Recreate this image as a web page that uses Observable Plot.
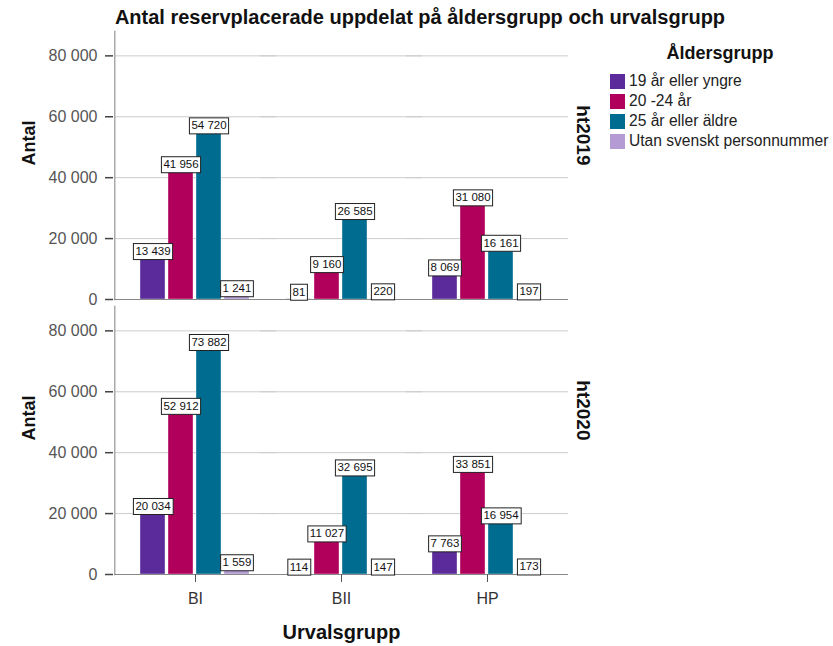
<!DOCTYPE html>
<html>
<head>
<meta charset="utf-8">
<script src="https://cdn.jsdelivr.net/npm/d3@7"></script>
<script src="https://cdn.jsdelivr.net/npm/@observablehq/plot@0.6"></script>
<style>
  body { margin: 0; background: #fff; font-family: "Liberation Sans", Arial, sans-serif; }
  #wrap { position: relative; width: 833px; height: 646px; }
  #title { position: absolute; left: 0; width: 840px; top: 6px; text-align: center; font-weight: bold; font-size: 20px; color: #111; }
  #legend { position: absolute; left: 610px; top: 43px; width: 223px; font-size: 15.6px; color: #222; white-space: nowrap; }
  #legend .lt { font-weight: bold; font-size: 18px; text-align: center; width: 220px; margin-bottom: 7px; color: #111; }
  #legend .it { display: flex; align-items: center; height: 20px; }
  #legend .sw { width: 15px; height: 15px; margin-right: 4px; flex: none; }
</style>
</head>
<body>
<div id="wrap">
  <div id="title">Antal reservplacerade uppdelat på åldersgrupp och urvalsgrupp</div>
  <div id="legend"></div>
</div>
<script>
const years = ["ht2019", "ht2020"];
const groups = ["BI", "BII", "HP"];
const ages = ["19 år eller yngre", "20 -24 år", "25 år eller äldre", "Utan svenskt personnummer"];
const colors = ["#5b2b9c", "#b1005b", "#006c90", "#b49bd4"];
// values per year: [group][age]
const ht2019 = [
  [13439, 41956, 54720, 1241],
  [81, 9160, 26585, 220],
  [8069, 31080, 16161, 197]
];
const ht2020 = [
  [20034, 52912, 73882, 1559],
  [114, 11027, 32695, 147],
  [7763, 33851, 16954, 173]
];
const yTicks = [0, 20000, 40000, 60000, 80000];

const data = [];
[ht2019, ht2020].forEach((tbl, yi) => {
  tbl.forEach((row, gi) => {
    row.forEach((v, ai) => {
      data.push({year: years[yi], group: groups[gi], age: ages[ai], value: v});
    });
  });
});

const fmt = v => d3.format(",")(v).replace(/,/g, " ");
const font = '"Liberation Sans", Arial, sans-serif';

const chart = Plot.plot({
  width: 833,
  height: 646,
  marginTop: 30,
  marginBottom: 71,
  marginLeft: 113,
  marginRight: 265,
  style: {fontFamily: font, fontSize: "16px", color: "#444", background: "transparent"},
  fx: {domain: groups, paddingInner: 0, paddingOuter: 0.053, label: null, axis: null},
  fy: {domain: years, padding: 0.025, label: null, axis: null},
  x: {domain: ages, paddingInner: 0.1, paddingOuter: 0.575, axis: null},
  y: {domain: [0, 88000], ticks: yTicks, label: null, axis: null},
  color: {domain: ages, range: colors},
  marks: [
    Plot.ruleY(yTicks.slice(1), {stroke: "#cccccc", strokeWidth: 1, insetLeft: -8, insetRight: -8}),
    Plot.frame({anchor: "left", facetAnchor: "left", dx: -7.75, stroke: "#aaa", strokeWidth: 1.5}),
    Plot.axisY({ticks: yTicks, tickFormat: fmt, tickSize: 8, tickPadding: 8, stroke: "#444", strokeWidth: 1.5, fill: "#555", fontSize: 16, label: null, dx: -9}),
    Plot.barY(data, {fx: "group", fy: "year", x: "age", y: "value", fill: "age", stroke: "#fff", strokeWidth: 0.6, strokeOpacity: 0.6}),
    Plot.ruleY([0], {stroke: "#888", strokeWidth: 1.2, insetLeft: -8, insetRight: -8}),
    Plot.text(data, {fx: "group", fy: "year", x: "age", y: "value", text: d => fmt(d.value), lineAnchor: "bottom", dy: -3.5, fill: "#111", fontSize: 11.5, className: "vlab"}),
    Plot.text(years, {fy: d => d, text: d => d, frameAnchor: "right", facetAnchor: "right", rotate: 90, dx: 23, fontWeight: "bold", fontSize: 19, fill: "#111"}),
    Plot.text(years, {fy: d => d, text: () => "Antal", frameAnchor: "left", facetAnchor: "left", rotate: -90, dx: -93, fontWeight: "bold", fontSize: 18, fill: "#111"}),
    Plot.axisFx({anchor: "bottom", facetAnchor: "bottom", tickSize: 8, tickPadding: 10, fontSize: 16, stroke: "#555", fill: "#333", label: null}),
    Plot.text(["Urvalsgrupp"], {frameAnchor: "bottom", dy: 64, fontWeight: "bold", fontSize: 20, fill: "#111", facet: "super"})
  ]
});

document.getElementById("wrap").prepend(chart);
chart.style.position = "absolute";
chart.style.left = "0px";
chart.style.top = "0px";
document.getElementById("title").style.zIndex = 2;

// boxes behind value labels
chart.querySelectorAll("g.vlab text").forEach(t => {
  const b = t.getBBox();
  const r = document.createElementNS("http://www.w3.org/2000/svg", "rect");
  r.setAttribute("x", b.x - 2);
  r.setAttribute("y", b.y - 1.5);
  r.setAttribute("width", b.width + 4);
  r.setAttribute("height", b.height + 4);
  r.setAttribute("fill", "#fff");
  r.setAttribute("stroke", "#222");
  r.setAttribute("stroke-width", "1");
  if (t.getAttribute("transform")) r.setAttribute("transform", t.getAttribute("transform"));
  t.parentNode.insertBefore(r, t);
});

const lg = document.getElementById("legend");
const lt = document.createElement("div");
lt.className = "lt";
lt.textContent = "Åldersgrupp";
lg.appendChild(lt);
ages.forEach((a, i) => {
  const it = document.createElement("div");
  it.className = "it";
  const sw = document.createElement("div");
  sw.className = "sw";
  sw.style.background = colors[i];
  const tx = document.createElement("span");
  tx.textContent = a;
  it.appendChild(sw);
  it.appendChild(tx);
  lg.appendChild(it);
});
</script>
</body>
</html>
